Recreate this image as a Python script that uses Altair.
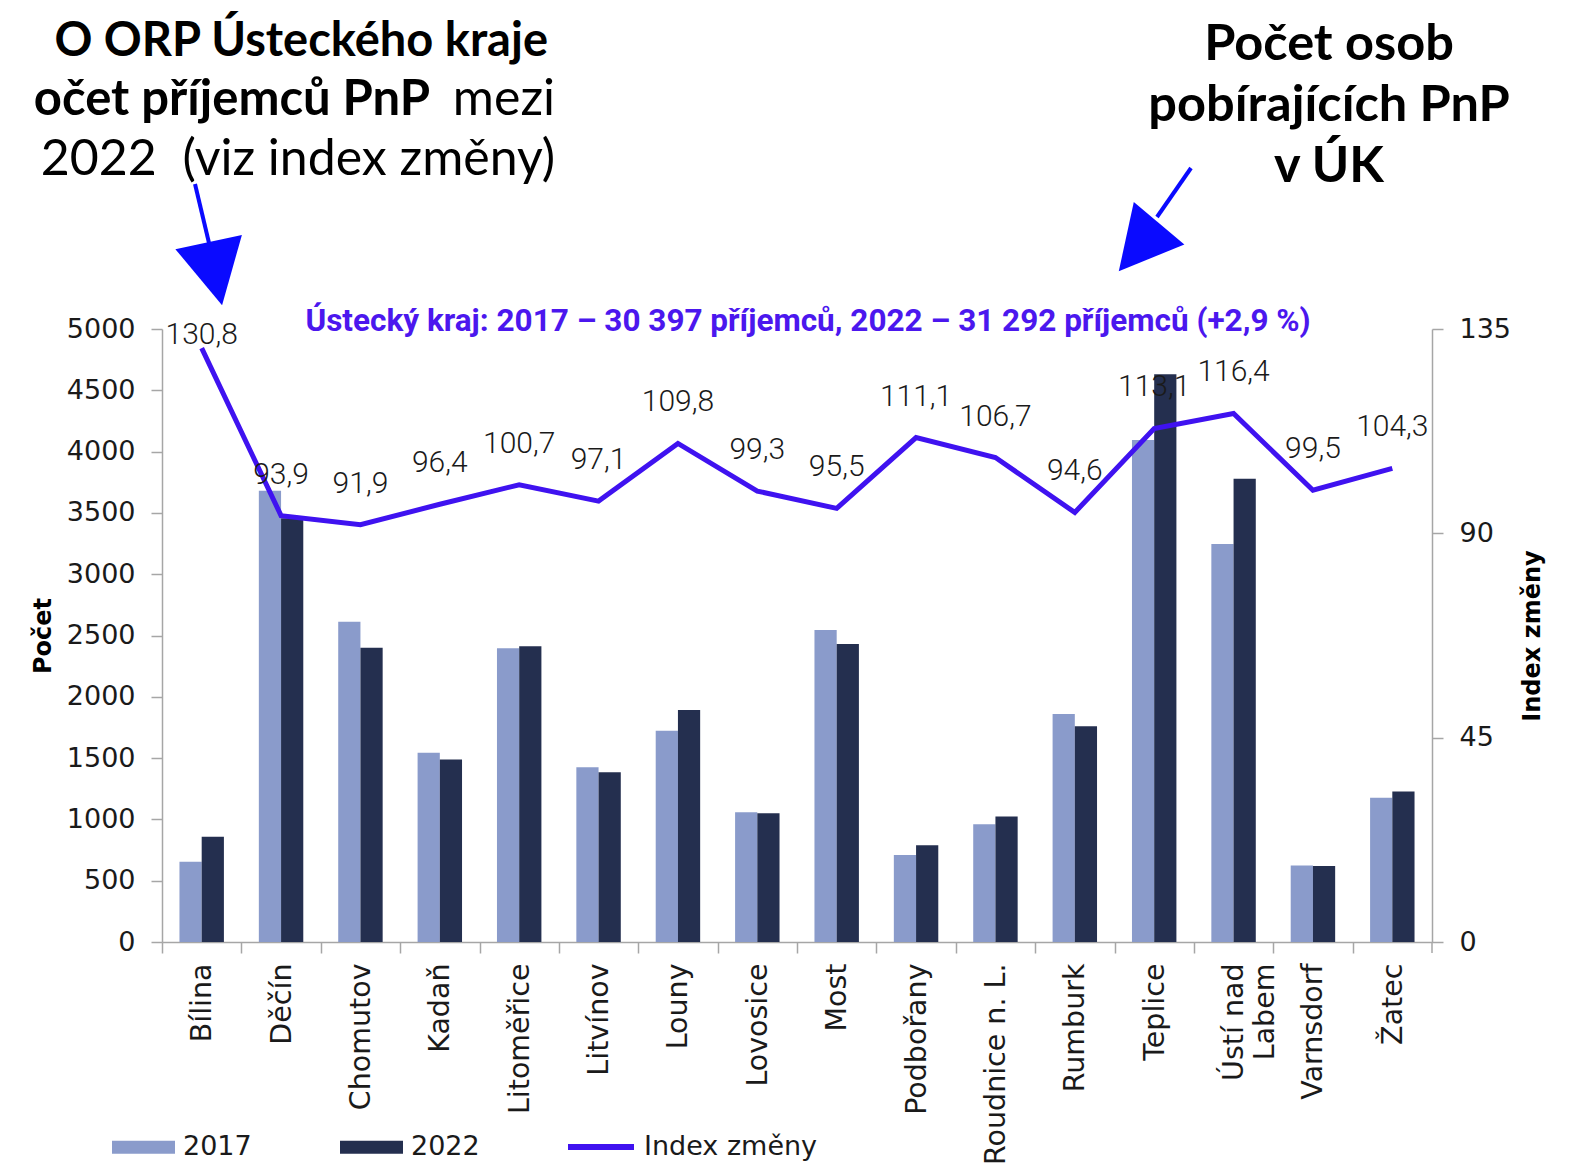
import altair as alt
import pandas as pd

# ---------------- data ----------------
categories = ["Bílina", "Děčín", "Chomutov", "Kadaň", "Litoměřice", "Litvínov", "Louny",
              "Lovosice", "Most", "Podbořany", "Roudnice n. L.", "Rumburk", "Teplice",
              "Ústí nad Labem", "Varnsdorf", "Žatec"]
v2017 = [655, 3681, 2613, 1544, 2396, 1425, 1724, 1058, 2545, 710, 960, 1860, 4095, 3246, 623, 1177]
v2022 = [859, 3456, 2401, 1488, 2413, 1384, 1893, 1051, 2430, 789, 1024, 1760, 4631, 3778, 620, 1228]
index_zmeny = [130.8, 93.9, 91.9, 96.4, 100.7, 97.1, 109.8, 99.3, 95.5, 111.1, 106.7, 94.6,
               113.1, 116.4, 99.5, 104.3]
years = ["2017", "2022"]
series_name = "Index změny"
left_ticks = list(range(0, 5001, 500))
right_ticks = [0, 45, 90, 135]

subtitle = "Ústecký kraj: 2017 – 30 397 příjemců, 2022 – 31 292 příjemců (+2,9 %)"
head_left_1 = "O ORP Ústeckého kraje"
head_left_2a = "očet příjemců PnP"
head_left_2b = "mezi"
head_left_3 = "2022\u00a0 (viz index změny)"
head_right = ["Počet osob", "pobírajících PnP", "v ÚK"]

# ---------------- tables ----------------
bars_df = pd.DataFrame({
    "ORP": categories * 2,
    "year": [years[0]] * len(categories) + [years[1]] * len(categories),
    "count": v2017 + v2022,
})
line_df = pd.DataFrame({"ORP": categories, "idx": index_zmeny,
                        "series": [series_name] * len(categories)})

W, H = 1270, 613
FONT = "DejaVu Sans"
AXIS_GRAY = "#a6a6a6"
LINE_COLOR = "#3f12f0"
ARROW = "#0a0aff"

x_enc = alt.X(
    "ORP:N", sort=categories,
    scale=alt.Scale(paddingInner=0, paddingOuter=0),
    axis=alt.Axis(
        title=None, labelAngle=270, labelAlign="right", labelBaseline="middle",
        labelExpr="datum.label == 'Ústí nad Labem' ? ['Ústí nad', 'Labem'] : datum.label",
        labelFont=FONT, labelFontSize=28.5, labelColor="#1a1a1a", labelPadding=10,
        labelLineHeight=31,
        tickOffset=-W / 32, labelOffset=W / 32, tickSize=11, tickColor=AXIS_GRAY,
        tickWidth=1.5, domainColor=AXIS_GRAY, domainWidth=1.5, labelLimit=400,
    ),
)

bars = alt.Chart(bars_df).mark_bar().encode(
    x=x_enc,
    xOffset=alt.XOffset("year:N", sort=years,
                        scale=alt.Scale(paddingInner=0, paddingOuter=0.786)),
    y=alt.Y("count:Q", scale=alt.Scale(domain=[0, 5000], nice=False),
            axis=alt.Axis(values=left_ticks, format="d", title="Počet", grid=False,
                          tickSize=11, tickColor=AXIS_GRAY, tickWidth=1.5,
                          domainColor=AXIS_GRAY, domainWidth=1.5,
                          labelFont=FONT, labelFontSize=27, labelColor="#1a1a1a",
                          labelPadding=16, titleFont=FONT, titleFontSize=24,
                          titleFontWeight="bold", titleColor="#000",
                          titleX=-119, titleY=H / 2, titleAlign="center",
                          titleBaseline="middle", titleAngle=270)),
    color=alt.Color("year:N", sort=years,
                    scale=alt.Scale(domain=years, range=["#8a9bcb", "#242f4f"]),
                    legend=alt.Legend(orient="none", legendX=-50, legendY=786.5,
                                      direction="horizontal", title=None,
                                      symbolType="M-1,-0.21H1V0.21H-1Z", symbolSize=3969,
                                      symbolStrokeWidth=0,
                                      labelFont=FONT, labelFontSize=27, labelColor="#1a1a1a",
                                      columnPadding=88, padding=0, labelOffset=8,
                                      labelLimit=300)),
)

y_idx = alt.Y("idx:Q", scale=alt.Scale(domain=[0, 135], nice=False),
              axis=alt.Axis(orient="right", values=right_ticks, format="d",
                            title="Index změny", grid=False,
                            tickSize=11, tickColor=AXIS_GRAY, tickWidth=1.5,
                            domainColor=AXIS_GRAY, domainWidth=1.5,
                            labelFont=FONT, labelFontSize=27, labelColor="#1a1a1a",
                            labelPadding=16, titleFont=FONT, titleFontSize=24,
                            titleFontWeight="bold", titleColor="#000",
                            titleX=100, titleY=H / 2, titleAlign="center",
                            titleBaseline="middle", titleAngle=270))

line = alt.Chart(line_df).mark_line(strokeWidth=5).encode(
    x=alt.X("ORP:N", sort=categories),
    y=y_idx,
    stroke=alt.Stroke("series:N",
                      scale=alt.Scale(domain=[series_name], range=[LINE_COLOR]),
                      legend=alt.Legend(orient="none", legendX=403, legendY=782,
                                        direction="horizontal", title=None,
                                        symbolType="stroke", symbolSize=4356,
                                        symbolStrokeWidth=6, labelFont=FONT,
                                        labelFontSize=27, labelColor="#1a1a1a",
                                        padding=0, labelOffset=7, labelLimit=400)),
)

lab_base = alt.Chart(line_df).transform_calculate(
    lab="replace(format(datum.idx, '.1f'), '.', ',')"
)
labels_main = lab_base.transform_filter("datum.idx < 125").mark_text(
    font="Roboto", fontWeight=300, fontSize=30, color="#1a1a1a", dy=-41, baseline="middle"
).encode(x=alt.X("ORP:N", sort=categories), y=y_idx, text="lab:N")
labels_top = lab_base.transform_filter("datum.idx >= 125").mark_text(
    font="Roboto", fontWeight=300, fontSize=30, color="#1a1a1a", dy=-13, baseline="middle"
).encode(x=alt.X("ORP:N", sort=categories), y=y_idx, text="lab:N")

right_layer = alt.layer(line, labels_main, labels_top)

one = pd.DataFrame({"a": [0]})


def txt(s, x, y, size, bold=False, align="right", color="#000", font="Lato"):
    return alt.Chart(one).mark_text(
        text=s, font=font, fontSize=size, fontWeight="bold" if bold else "normal",
        align=align, baseline="alphabetic", color=color,
    ).encode(x=alt.value(x), y=alt.value(y))


end_tick = alt.Chart(one).mark_rule(color=AXIS_GRAY, strokeWidth=1.5).encode(
    x=alt.value(W), y=alt.value(H), y2=alt.value(H + 11))

sub = txt(subtitle, 646, 2, 31.5, bold=True, align="center", color="#4b17ee", font="Roboto")

heads = [
    txt(head_left_1, 386, -273, 47, bold=True),
    txt(head_left_2a, 268, -214, 49, bold=True),
    txt(head_left_2b, 393, -214, 50),
    txt(head_left_3, 393, -154, 50),
    txt(head_right[0], 1167, -269, 50.5, bold=True, align="center"),
    txt(head_right[1], 1167, -208, 50.5, bold=True, align="center"),
    txt(head_right[2], 1167, -147, 50.5, bold=True, align="center"),
]

shafts = [
    alt.Chart(one).mark_rule(color=ARROW, strokeWidth=4).encode(
        x=alt.value(33), y=alt.value(-145), x2=alt.value(47), y2=alt.value(-86)),
    alt.Chart(one).mark_rule(color=ARROW, strokeWidth=4).encode(
        x=alt.value(1029), y=alt.value(-161), x2=alt.value(995), y2=alt.value(-112)),
]
TRI = "M-1,-0.9L1,-0.9L0,1Z"
heads_tri = [
    alt.Chart(one).mark_point(shape=TRI, filled=True, color=ARROW, opacity=1,
                              size=4624, angle=348, strokeWidth=0).encode(
        x=alt.value(53), y=alt.value(-57)),
    alt.Chart(one).mark_point(shape=TRI, filled=True, color=ARROW, opacity=1,
                              size=4356, angle=40, strokeWidth=0).encode(
        x=alt.value(978), y=alt.value(-83)),
]

chart = alt.layer(
    bars, right_layer, end_tick, sub, *heads, *shafts, *heads_tri
).resolve_scale(
    y="independent", color="independent", stroke="independent"
).properties(
    width=W, height=H,
    autosize=alt.AutoSizeParams(type="none"),
    padding={"left": 154, "top": 321, "right": 143, "bottom": 224},
    background="white",
).configure_view(stroke=None)

chart.save("out.html", embed_options={"renderer": "svg", "actions": False})
